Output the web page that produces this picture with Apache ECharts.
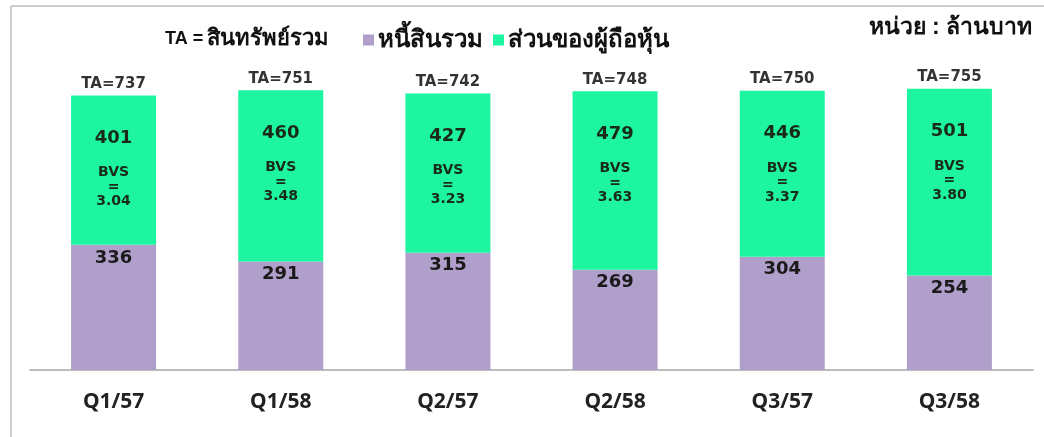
<!DOCTYPE html>
<html><head><meta charset="utf-8">
<script src="https://cdn.jsdelivr.net/npm/echarts@6/dist/echarts.min.js"></script>
<style>html,body{margin:0;padding:0;background:#fff}#c{width:1044px;height:437px}</style>
</head><body><div id="c"></div>
<script>
const categories = ['Q1/57','Q1/58','Q2/57','Q2/58','Q3/57','Q3/58'];
const liabilities = [336, 291, 315, 269, 304, 254];
const equity = [401, 460, 427, 479, 446, 501];
const totalAssets = [737, 751, 742, 748, 750, 755];
const bvs = ['3.04','3.48','3.23','3.63','3.37','3.80'];

const chart = echarts.init(document.getElementById('c'));
const numFont = 'DejaVu Sans, Verdana, sans-serif';
chart.setOption({
  animation: false,
  backgroundColor: '#fff',
  grid: {left: 30, right: 11, top: 72, bottom: 67},
  legend: {
    left: 358, top: 23, itemGap: 10, itemWidth: 11, itemHeight: 11,
    icon: 'rect',
    data: ['หนี้สินรวม','ส่วนของผู้ถือหุ้น'],
    textStyle: {fontSize: 24, fontWeight: 'bold', color: '#111', padding: [0,0,0,-1]}
  },
  xAxis: {
    type: 'category', data: categories,
    axisLine: {lineStyle: {color: '#a6a6a6', width: 1.5}},
    axisTick: {show: false},
    axisLabel: {margin: 22, fontSize: 21, fontWeight: 'bold', color: '#222', fontFamily: 'Noto Sans, sans-serif'}
  },
  yAxis: {type: 'value', min: 0, max: 800, show: false, splitLine: {show: false}},
  series: [
    {
      name: 'หนี้สินรวม', type: 'bar', stack: 'ta', barWidth: 85,
      data: liabilities,
      itemStyle: {color: '#B09FCA'},
      label: {show: true, position: 'insideTop', distance: 4, fontSize: 18, fontWeight: 'bold',
              color: '#1a1a1a', fontFamily: numFont}
    },
    {
      name: 'ส่วนของผู้ถือหุ้น', type: 'bar', stack: 'ta', barWidth: 85,
      data: equity,
      itemStyle: {color: '#1DF5A0'},
      label: {
        show: true, position: 'insideTop', distance: 32,
        formatter: p => '{v|' + p.value + '}\n{g|}\n{b|BVS}\n{b|=}\n{b|' + bvs[p.dataIndex] + '}',
        rich: {
          v: {fontSize: 18, fontWeight: 'bold', color: '#1a2a1a', fontFamily: numFont, lineHeight: 22},
          g: {lineHeight: 16, fontSize: 10},
          b: {fontSize: 14, fontWeight: 'bold', color: '#1a2a1a', fontFamily: numFont, lineHeight: 14.5}
        }
      }
    },
    {
      name: 'TA', type: 'scatter', data: totalAssets, symbolSize: 0, silent: true,
      label: {show: true, position: 'top', distance: 4, formatter: p => 'TA=' + p.value,
              fontSize: 15, fontWeight: 'bold', color: '#000', fontFamily: numFont}
    }
  ],
  graphic: [
    {type: 'line', shape: {x1: 11, y1: 6, x2: 1044, y2: 6}, style: {stroke: '#bdbdbd', lineWidth: 1.5}},
    {type: 'line', shape: {x1: 11, y1: 6, x2: 11, y2: 437}, style: {stroke: '#bdbdbd', lineWidth: 1.5}},
    {type: 'text', left: 165, top: 28, style: {
      text: '{a|TA =} {t|สินทรัพย์รวม}',
      rich: {a: {fontSize: 18, fontWeight: 'bold', fill: '#111', fontFamily: 'Liberation Sans, Arial, sans-serif'},
             t: {fontSize: 22, fontWeight: 'bold', fill: '#111'}}
    }},
    {type: 'text', right: 12, top: 16, style: {
      text: 'หน่วย : ล้านบาท', fontSize: 23, fontWeight: 'bold', fill: '#111'
    }}
  ]
});
</script></body></html>
